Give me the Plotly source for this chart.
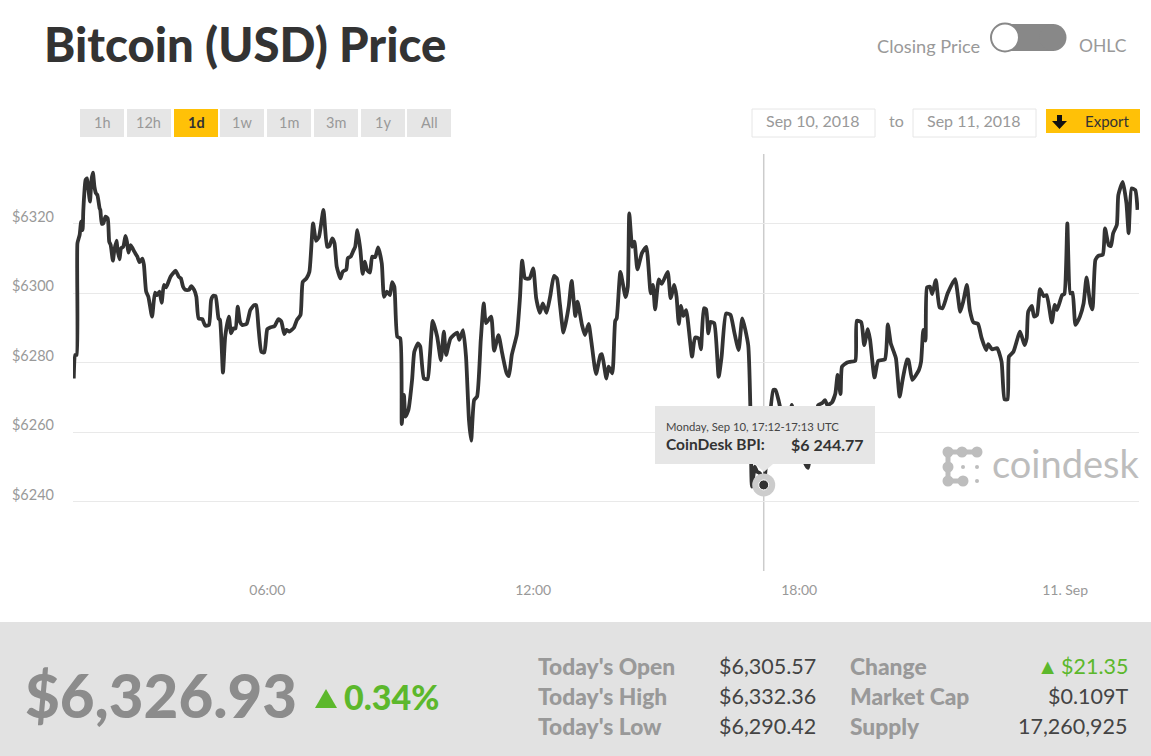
import pandas as pd
import plotly.graph_objects as go

W, H = 1151, 756

# minutes after 00:00 UTC on Sep 10
minutes = [98,100,102,103,106,108,110,111,114,116,118,120,122,124,126,128,130,133,134,136,138,141,144,146,148,151,153,156,157,160,
           162,165,168,170,172,175,177,180,184,187,191,193,196,199,204,208,211,214,217,220,223,229,236,240,243,246,249,254,257,261,
           264,267,272,276,281,284,287,290,294,296,300,303,308,311,314,317,320,323,326,332,337,342,345,348,352,356,360,364,370,375,
           379,383,386,390,396,400,405,408,413,417,422,426,430,436,441,444,448,451,454,459,462,467,469,473,477,479,482,486,489,492,
           495,499,502,506,510,515,518,522,526,529,532,536,540,542,545,547,551,556,559,564,567,
           572,577,580,584,590,595,599,602,608,617,620,625,629,633,636,640,644,649,653,656,663,667,673,678,684,687,691,698,702,705,
           709,715,720,724,729,733,738,743,748,752,756,761,768,772,777,780,786,790,795,799,805,811,813,819,822,827,831,833,838,845,
           848,850,854,857,861,867,873,879,882,885,890,894,902,906,911,914,917,920,923,927,935,939,944,947,951,954,957,960,965,971,
           975,981,987,992,998,1003,1011,1014,1016,1020,1023,1027,1032,1038,1045,1048,1052,1055,1063,1067,1070,1075,1081,1088,1092,1097,
           1106,1111,1115,1118,1124,1129,1132,1136,1138,1145,1149,1156,1158,1164,1168,1173,1176,1182,1187,1196,1200,1204,1208,1211,1216,1220,
           1226,1228,1233,1242,1245,1248,1251,1253,1257,1260,1265,1270,1274,1281,1291,1298,1302,1307,1311,1316,1322,1327,1333,1336,1341,1348,
           1354,1358,1362,1364,1370,1379,1385,1388,1390,1395,1398,1402,1406,1411,1415,1422,1426,1429,1436,1439,1443,1447,1450,1454,1460,1465,
           1469,1474,1477,1481,1485,1491,1494,1499,1502,1505,1510,1512,1518,1523,1526,1530,1535,1538]
prices = [6275.4,6282.2,6282.2,6314.3,6316.7,6320.5,6318.1,6323.9,6332.5,6333.0,6329.6,6326.3,6332.5,6334.6,6330.6,6328.7,6328.2,6324.4,6323.9,6319.9,6320.0,6322.0,6321.5,6314.8,6313.8,6309.3,6312.4,6315.1,6312.9,6309.7,
          6312.9,6313.3,6316.4,6314.8,6311.6,6313.8,6313.1,6311.9,6310.5,6308.9,6309.9,6308.1,6300.4,6298.9,6293.2,6300.1,6299.4,6300.4,6297.2,6302.3,6301.6,6304.7,6306.4,6304.7,6304.2,6301.8,6300.9,6300.9,6302.0,6300.9,
          6298.9,6292.7,6292.5,6290.6,6290.8,6298.0,6299.2,6299.1,6292.7,6292.2,6277.1,6287.4,6293.2,6288.4,6289.8,6289.8,6296.1,6291.8,6290.8,6291.1,6295.1,6296.5,6296.5,6290.3,6283.1,6282.9,6289.6,6290.1,6290.5,6292.5,
          6291.8,6288.2,6289.4,6288.9,6290.0,6292.2,6293.7,6303.2,6304.2,6306.1,6320.0,6315.0,6316.2,6323.9,6313.3,6313.5,6315.7,6314.3,6307.6,6304.2,6306.1,6306.8,6310.0,6310.5,6312.4,6313.3,6318.1,6312.4,6305.5,6309.0,
          6306.6,6305.9,6310.5,6310.3,6313.1,6308.5,6298.9,6300.4,6299.4,6303.1,6301.8,6287.4,6287.0,6262.3,6270.7,6264.4,6266.3,6275.0,6283.1,6285.5,6284.6,
          6275.4,6275.2,6281.7,6292.0,6287.4,6280.7,6288.9,6282.2,6286.9,6288.6,6286.5,6289.3,6281.7,6263.5,6257.5,6269.2,6270.2,6286.5,6297.0,6291.3,6293.2,6283.4,6287.9,6282.6,6276.9,6276.1,6282.2,6288.2,6298.5,6309.3,
          6304.2,6304.2,6307.1,6298.5,6294.3,6297.0,6294.3,6299.1,6304.9,6304.2,6297.0,6288.6,6296.1,6303.5,6293.4,6297.5,6290.8,6287.9,6291.1,6285.5,6276.7,6282.2,6282.4,6275.4,6278.8,6276.9,6292.0,6292.7,6306.1,6298.8,
          6301.8,6322.9,6313.3,6314.8,6306.8,6311.4,6313.3,6299.9,6302.3,6295.3,6303.9,6302.6,6306.1,6298.5,6302.3,6298.9,6291.1,6296.3,6293.4,6295.1,6281.7,6287.2,6286.9,6283.8,6295.6,6295.3,6288.4,6291.7,6291.3,6275.9,
          6281.7,6294.1,6293.7,6288.9,6283.6,6292.7,6285.0,6266.3,6244.3,6250.0,6248.6,6248.1,6244.77,6258.7,6272.1,6272.1,6269.2,6266.3,6258.7,6264.4,6267.8,6262.5,6257.7,6251.0,6249.7,6258.7,
          6267.8,6268.3,6269.2,6267.8,6268.4,6271.1,6276.4,6270.9,6278.8,6280.0,6280.2,6280.5,6292.0,6291.6,6285.0,6289.6,6286.5,6275.7,6280.5,6280.9,6291.0,6285.5,6283.1,6281.2,6270.2,6275.0,
          6280.9,6280.7,6275.0,6277.8,6280.2,6289.4,6286.3,6301.6,6301.8,6299.7,6303.7,6295.9,6295.6,6299.9,6304.0,6294.6,6297.5,6302.3,6295.1,6291.5,6291.1,6287.0,6283.6,6285.3,6283.8,6284.1,
          6280.2,6269.4,6269.4,6281.7,6283.1,6288.9,6285.0,6287.0,6294.6,6296.3,6293.2,6293.7,6301.1,6299.1,6299.4,6291.5,6296.6,6295.1,6299.4,6299.7,6320.0,6299.9,6300.1,6290.8,6293.2,6297.0,
          6304.5,6297.0,6295.3,6309.5,6310.7,6311.0,6318.6,6313.8,6313.5,6317.2,6319.6,6328.2,6332.0,6325.8,6317.2,6330.1,6329.6,6323.9]

hover_time = "2018-09-10 17:12"
hover_price = 6244.77

y_ticks = [6220, 6240, 6260, 6280, 6300, 6320, 6340]
y_labels = ["", "$6240", "$6260", "$6280", "$6300", "$6320", ""]
x_ticks = ["2018-09-10 06:00", "2018-09-10 12:00", "2018-09-10 18:00", "2018-09-11 00:00"]
x_labels = ["06:00", "12:00", "18:00", "11. Sep"]

range_buttons = ["1h", "12h", "1d", "1w", "1m", "3m", "1y", "All"]
stat_names_left = ["Today's Open", "Today's High", "Today's Low"]
stat_values_left = ["$6,305.57", "$6,332.36", "$6,290.42"]
stat_names_right = ["Change", "Market Cap", "Supply"]
stat_values_right = ["▲\u2009$21.35", "$0.109T", "17,260,925"]

FONT = "Lato"
GREY = "#999999"
DARK = "#333333"
GREEN = "#5cb82c"
YELLOW = "#ffc107"
LIGHT = "#e6e6e6"
LOGO = "#bdbdbd"


def fx(x):
    return x / W


def fy(y):
    return 1 - y / H


def text(fig, x, y, s, size, color, anchor="left", weight=400):
    fig.add_annotation(x=fx(x), y=fy(y), xref="paper", yref="paper", text=s, showarrow=False,
                       xanchor=anchor, yanchor="middle", borderpad=0, align=anchor,
                       font=dict(family=FONT, size=size, color=color, weight=weight))


def box(fig, x0, y0, x1, y1, fill, line=None):
    fig.add_shape(type="rect", xref="paper", yref="paper", x0=fx(x0), x1=fx(x1), y0=fy(y0), y1=fy(y1),
                  fillcolor=fill, line=dict(color=line or fill, width=1 if line else 0), layer="above")


def path(fig, d, fill):
    fig.add_shape(type="path", path=d, xref="paper", yref="paper", fillcolor=fill,
                  line=dict(color=fill, width=0), layer="above")


def pts(points):
    return "M" + " L".join(f"{fx(x):.5f},{fy(y):.5f}" for x, y in points) + " Z"


def dot(fig, cx, cy, r, fill, line=None, width=0):
    fig.add_shape(type="circle", xref="paper", yref="paper", x0=fx(cx - r), x1=fx(cx + r), y0=fy(cy - r), y1=fy(cy + r),
                  fillcolor=fill, line=dict(color=line or fill, width=width), layer="above")


times = pd.Timestamp("2018-09-10") + pd.to_timedelta(minutes, unit="min")

fig = go.Figure()
fig.add_trace(go.Scatter(x=times, y=prices, mode="lines", line=dict(color=DARK, width=3.8, shape="spline", smoothing=0.5), hoverinfo="skip"))
fig.add_trace(go.Scatter(x=[hover_time], y=[hover_price], mode="markers", marker=dict(size=23, color="#cccccc"), hoverinfo="skip"))
fig.add_trace(go.Scatter(x=[hover_time], y=[hover_price], mode="markers", marker=dict(size=10, color=DARK, line=dict(color="white", width=1)), hoverinfo="skip"))

# crosshair
fig.add_shape(type="line", x0=hover_time, x1=hover_time, xref="x", yref="paper", y0=fy(571), y1=fy(154),
              line=dict(color="#cccccc", width=1.5), layer="below")

# bottom band
box(fig, 0, 622, W, H, "#e2e2e2")

# tooltip
box(fig, 655, 406, 875, 464, LIGHT)
path(fig, pts([(755, 464), (773, 464), (764, 472)]), LIGHT)
text(fig, 665, 426, "Monday, Sep 10, 17:12-17:13 UTC", 11.3, "#444444")
text(fig, 665, 444, "CoinDesk BPI:", 15.5, DARK, weight=700)
text(fig, 865, 444, "$6 244.77", 16, DARK, anchor="right", weight=700)

# title and toggle
text(fig, 43, 44, "Bitcoin (USD) Price", 47.3, DARK, weight=900)
text(fig, 876, 46, "Closing Price", 18.2, GREY)
text(fig, 1078, 46, "OHLC", 17.5, GREY)
fig.add_shape(type="rect", xref="paper", yref="paper", x0=fx(1004), x1=fx(1054), y0=fy(24), y1=fy(51),
              fillcolor="#888888", line=dict(width=0), layer="above")
dot(fig, 1053, 37.5, 13.5, "#888888")
dot(fig, 1005, 37.5, 14, "white", "#888888", 2)

# range buttons
button_left = [80, 127, 174, 220, 267, 314, 361, 407]
for name, left in zip(range_buttons, button_left):
    active = name == "1d"
    box(fig, left, 109, left + 44, 137, YELLOW if active else LIGHT)
    text(fig, left + 22, 122, name, 14.5, DARK if active else GREY, anchor="center", weight=700 if active else 400)

# date range and export
box(fig, 752, 109, 875, 137, "white", LIGHT)
box(fig, 913, 109, 1036, 137, "white", LIGHT)
text(fig, 813, 121, "Sep 10, 2018", 16, GREY, anchor="center")
text(fig, 974, 121, "Sep 11, 2018", 16, GREY, anchor="center")
text(fig, 896, 121, "to", 16, GREY, anchor="center")
box(fig, 1046, 109, 1140, 133, YELLOW)
path(fig, pts([(1057, 115), (1062, 115), (1062, 121), (1067, 121), (1059.5, 129), (1052, 121), (1057, 121)]), "#111111")
text(fig, 1107, 120.5, "Export", 15, DARK, anchor="center")

# coindesk mark
for x0, y0, x1, y1 in [(948, 449.5, 977, 454.5), (945.5, 452, 950.5, 481), (948, 478.5, 963, 483.5)]:
    box(fig, x0, y0, x1, y1, LOGO)
for cx, cy in [(948, 452), (962, 452), (977, 452), (948, 467), (948, 481), (963, 481)]:
    dot(fig, cx, cy, 5.5, LOGO)
for cx, cy in [(963, 467), (977, 467), (977, 481)]:
    dot(fig, cx, cy, 2, LOGO)
text(fig, 991, 463, "coindesk", 38, LOGO)

# price summary
text(fig, 24, 695, "$6,326.93", 60, "#8c8c8c", weight=900)
path(fig, pts([(315, 708), (337, 708), (326, 689)]), GREEN)
text(fig, 343, 696, "0.34%", 34, GREEN, weight=900)

rows = [666, 696, 726]
for row, a, b, c, d in zip(rows, stat_names_left, stat_values_left, stat_names_right, stat_values_right):
    text(fig, 537, row, a, 22.8, GREY, weight=900)
    text(fig, 817, row, b, 21.5, "#444444", anchor="right")
    text(fig, 849, row, c, 22.8, GREY, weight=900)
    text(fig, 1129, row, d, 21.5, GREEN if d.startswith("▲") else "#444444", anchor="right")

fig.update_layout(
    width=W, height=H, margin=dict(l=0, r=0, t=0, b=0), autosize=False,
    paper_bgcolor="white", plot_bgcolor="white", showlegend=False,
    font=dict(family=FONT),
    xaxis=dict(domain=[73 / W, 1139 / W], type="date", range=["2018-09-10 01:37", "2018-09-11 01:40"],
               tickmode="array", tickvals=x_ticks, ticktext=x_labels, showgrid=False, zeroline=False,
               showline=False, ticks="", ticklabelstandoff=9, tickfont=dict(size=14, color=GREY, family=FONT)),
    yaxis=dict(domain=[1 - 571 / H, 1 - 154 / H], range=[6220, 6340], tickmode="array", tickvals=y_ticks,
               ticktext=y_labels, showgrid=True, gridcolor="#e9e9e9", gridwidth=1.2, zeroline=False, showline=False,
               ticks="", ticklabelstandoff=18, ticklabelshift=-7, tickfont=dict(size=14.5, color=GREY, family=FONT)),
)

fig.write_html("out.html", post_script="document.body.style.margin='0';", config=dict(displayModeBar=False))
